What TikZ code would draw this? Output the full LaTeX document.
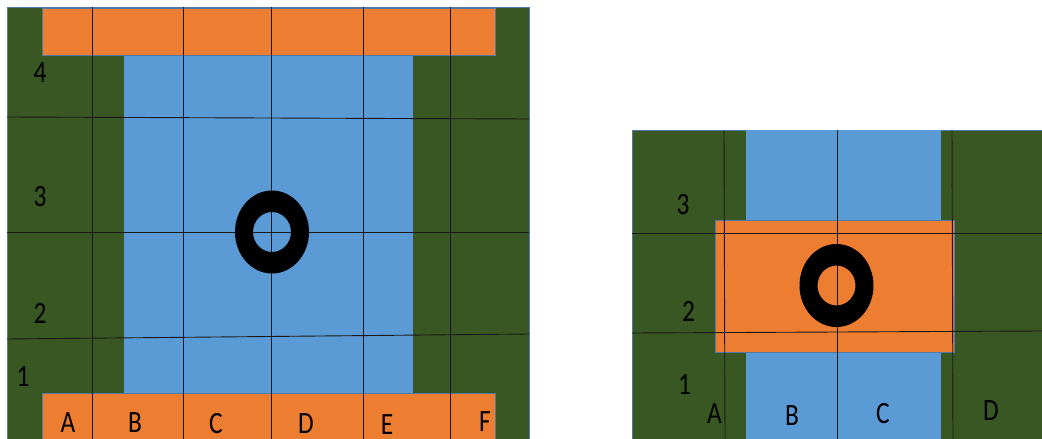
\documentclass[tikz,border=0pt]{standalone}
\usepackage{fontspec}
\setmainfont{Carlito}
\usepackage{tikz}
\usetikzlibrary{calc}

\definecolor{ground}{RGB}{56,87,35}
\definecolor{plate}{RGB}{237,125,49}
\definecolor{water}{RGB}{91,155,213}
\definecolor{rim}{RGB}{82,122,168}

\tikzset{
  area/.style={line width=0.6pt, draw=rim},
  grid line/.style={line width=0.9pt, black!90},
  lbl/.style={inner sep=0pt, xscale=0.82, font=\fontsize{31}{31}\selectfont},
}

\begin{document}
\begin{tikzpicture}[x=1pt,y=-1pt]
        \useasboundingbox (0,0) rectangle (1042,439);

        % linkes Feld
        \fill[ground, area] (7,7) rectangle (529,439);
        \fill[water] (124,55) rectangle (413,393);
        \fill[plate, area] (42,8) rectangle (495,55);
        \fill[plate, area] (42,393) rectangle (495,445);

        \draw[grid line] (7,117) -- (529,119);
        \draw[grid line] (7,232) -- (529,232);
        \draw[grid line] (7,339) -- (529,334);
        \foreach \x in {92,183,271,363,450}
            \draw[grid line] (\x,7) -- (\x,439);

        \coordinate (O1) at (272,232);
        \fill[black, even odd rule] (O1) ellipse [x radius=37, y radius=41.5]
                                    (O1) ellipse [x radius=19, y radius=20];

        \node[lbl] (L4) at (40,73) {4};
        \node[lbl] (L3) at (40,196.5) {3};
        \node[lbl] (L2) at (40,313) {2};
        \node[lbl] (L1) at (23,377) {1};
        \node[lbl] (LA) at (68,423) {A};
        \node[lbl] (LB) at (135,423) {B};
        \node[lbl] (LC) at (216,424) {C};
        \node[lbl] (LD) at (306,424) {D};
        \node[lbl] (LE) at (387,425) {E};
        \node[lbl] (LF) at (485,422) {F};

        % rechtes Feld
        \fill[ground, area] (632,130) rectangle (1050,445);
        \fill[water] (746,130) rectangle (941,439);
        \fill[plate, area] (715,220) rectangle (954,352);

        \draw[grid line] (632,233) -- (1042,233);
        \draw[grid line] (632,333) -- (1042,331);
        \draw[grid line] (724,130) -- (725,439);
        \draw[grid line] (837,130) -- (837,439);
        \draw[grid line] (952,130) -- (953,439);

        \coordinate (O2) at (836.5,285.5);
        \fill[black, even odd rule] (O2) ellipse [x radius=37, y radius=41.5]
                                    (O2) ellipse [x radius=19, y radius=20];

        \node[lbl] (R3) at (683,204.5) {3};
        \node[lbl] (R2) at (688.5,311) {2};
        \node[lbl] (R1) at (684.5,384.5) {1};
        \node[lbl] (RA) at (714.5,414) {A};
        \node[lbl] (RB) at (792,415.5) {B};
        \node[lbl] (RC) at (883,414) {C};
        \node[lbl] (RD) at (991,411) {D};
    \end{tikzpicture}
\end{document}
